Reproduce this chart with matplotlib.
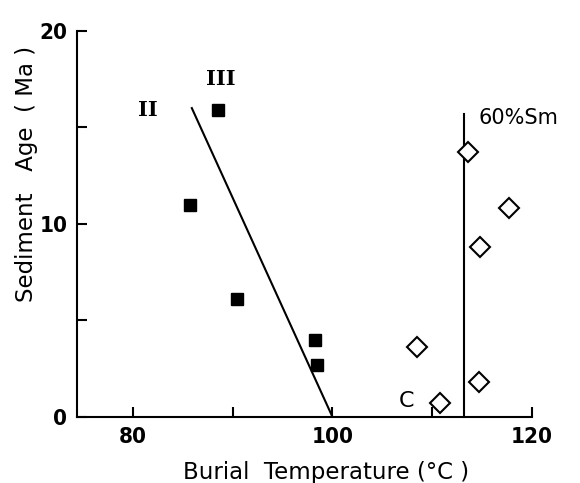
import matplotlib.pyplot as plt
from matplotlib.ticker import FixedLocator

# filled squares
sq_temp = [88.5, 85.7, 90.4, 98.3, 98.5]
sq_age = [15.9, 11.0, 6.1, 4.0, 2.7]

# open diamonds
dm_temp = [113.6, 117.7, 114.8, 108.5, 114.7, 110.8]
dm_age = [13.7, 10.8, 8.8, 3.6, 1.8, 0.7]

# trend line and 60% Sm line
trend_temp = [85.9, 100.0]
trend_age = [16.0, 0.0]
sm_temp = [113.2, 113.2]
sm_age = [0.0, 15.7]

xticks = [80, 90, 100, 110, 120]
xlabels = ['80', '', '100', '', '120']
yticks = [0, 5, 10, 15, 20]
ylabels = ['0', '', '10', '', '20']

fig = plt.figure(figsize=(5.8, 4.83), dpi=100)
ax = fig.add_axes([0.133, 0.137, 0.784, 0.799])

ax.plot(trend_temp, trend_age, color='black', lw=1.5, clip_on=False)
ax.plot(sm_temp, sm_age, color='black', lw=1.5, clip_on=False)
ax.plot(sq_temp, sq_age, 's', color='black', ms=8.5, clip_on=False)
ax.plot(dm_temp, dm_age, 'D', mfc='white', mec='black', mew=1.5, ms=10.5, clip_on=False)

ax.text(114.6, 15.5, '60%Sm', fontsize=15, va='center', ha='left')
ax.text(108.2, 0.8, 'C', fontsize=16, va='center', ha='right')
ax.text(81.5, 15.9, 'II', fontsize=15, family='DejaVu Serif', weight='bold', va='center', ha='center')
ax.text(88.8, 17.5, 'III', fontsize=15, family='DejaVu Serif', weight='bold', va='center', ha='center')

ax.set_xlim(74.4, 120)
ax.set_ylim(0, 20)
ax.spines['top'].set_visible(False)
ax.spines['right'].set_visible(False)
ax.spines['left'].set_linewidth(1.5)
ax.spines['bottom'].set_linewidth(1.5)

ax.xaxis.set_major_locator(FixedLocator(xticks))
ax.yaxis.set_major_locator(FixedLocator(yticks))
ax.set_xticklabels(xlabels)
ax.set_yticklabels(ylabels)
ax.tick_params(direction='in', length=7, width=1.5, labelsize=16, pad=7)
for lab in ax.get_xticklabels() + ax.get_yticklabels():
    lab.set_fontweight('bold')
    lab.set_fontstretch('condensed')

ax.set_xlabel('Burial  Temperature (°C )', fontsize=16.5)
ax.set_ylabel('Sediment   Age  ( Ma )', fontsize=16.5)
ax.xaxis.set_label_coords(0.547, -0.115)
ax.yaxis.set_label_coords(-0.085, 0.63)

fig.savefig('out.png', dpi=100)
